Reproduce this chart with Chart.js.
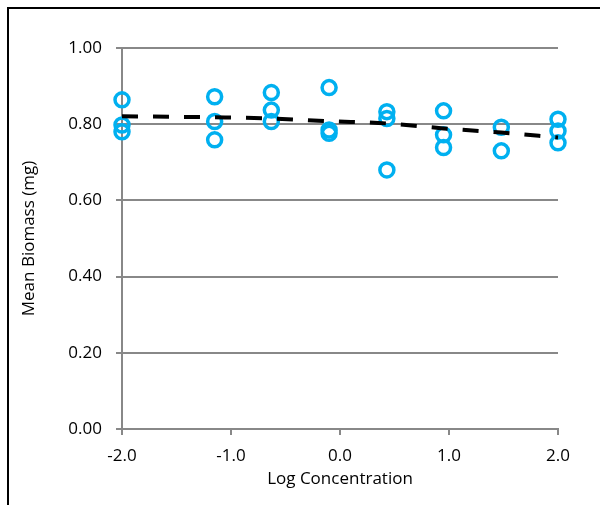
<!DOCTYPE html>
<html>
<head>
<meta charset="utf-8">
<script src="https://cdn.jsdelivr.net/npm/chart.js@4/dist/chart.umd.min.js"></script>
<style>
  html, body { margin: 0; padding: 0; background: #fff; }
  #wrap { position: relative; width: 600px; height: 505px; overflow: hidden; }
  #frame { position: absolute; left: 7px; top: 7px; right: -5px; bottom: -5px;
           border-left: 2px solid #000; border-top: 2px solid #000; }
  canvas { position: absolute; left: 0; top: 0; }
</style>
</head>
<body>
<div id="wrap">
  <div id="frame"></div>
  <canvas id="chart" width="600" height="505"></canvas>
</div>
<script>
// log concentration of each treatment
const logConc = [-2.0, -1.15, -0.63, -0.1, 0.43, 0.95, 1.48, 2.0];

// mean biomass (mg), one array per replicate
const rep1 = [0.864, 0.872, 0.883, 0.896, 0.833, 0.835, 0.792, 0.813];
const rep2 = [0.798, 0.807, 0.837, 0.785, 0.815, 0.772, 0.730, 0.782];
const rep3 = [0.780, 0.759, 0.807, 0.776, 0.680, 0.739, null, 0.751];

// fitted curve (dashed)
const fitted = [0.821, 0.818, 0.815, 0.808, 0.802, 0.789, 0.778, 0.765];

const yTicks = [0, 0.2, 0.4, 0.6, 0.8, 1.0];
const xTicks = [-2, -1, 0, 1, 2];

const FONT = "'Open Sans', sans-serif";
const GRID = '#888888';

// build scatter points
const points = [];
[rep1, rep2, rep3].forEach(rep => {
  rep.forEach((v, i) => {
    if (v !== null) points.push({ x: logConc[i], y: v });
  });
});
const fitPoints = logConc.map((x, i) => ({ x: x, y: fitted[i] }));

const ctx = document.getElementById('chart').getContext('2d');
new Chart(ctx, {
  type: 'scatter',
  data: {
    datasets: [
      {
        type: 'line',
        data: fitPoints,
        borderColor: '#000',
        borderWidth: 4,
        borderDash: [16, 15],
        borderCapStyle: 'butt',
        pointRadius: 0,
        fill: false,
        clip: false,
        cubicInterpolationMode: 'monotone'
      },
      {
        data: points,
        pointStyle: 'circle',
        pointRadius: 7,
        pointBorderWidth: 3.5,
        pointBorderColor: '#00B0F0',
        pointBackgroundColor: 'rgba(0,0,0,0)',
        clip: false,
        showLine: false
      }
    ]
  },
  options: {
    responsive: false,
    animation: false,
    layout: { padding: { left: 0, right: 42, top: 48, bottom: 0 } },
    plugins: {
      legend: { display: false },
      tooltip: { enabled: false }
    },
    scales: {
      x: {
        type: 'linear',
        min: -2,
        max: 2,
        afterBuildTicks: s => { s.ticks = xTicks.map(v => ({ value: v })); },
        afterFit: s => { s.height = 76; },
        ticks: {
          padding: 11,
          color: '#000',
          font: { family: FONT, size: 17 },
          callback: v => v.toFixed(1)
        },
        grid: { drawOnChartArea: false, drawTicks: true, tickLength: 6, color: GRID, lineWidth: 2 },
        border: { display: true, color: GRID, width: 2 },
        title: {
          display: true,
          text: 'Log Concentration',
          color: '#000',
          font: { family: FONT, size: 17 },
          padding: { top: 0, bottom: 16 }
        }
      },
      y: {
        min: 0,
        max: 1,
        afterBuildTicks: s => { s.ticks = yTicks.map(v => ({ value: v })); },
        afterFit: s => { s.width = 122; },
        ticks: {
          padding: 14,
          color: '#000',
          font: { family: FONT, size: 17 },
          callback: v => v.toFixed(2)
        },
        grid: { drawTicks: true, tickLength: 6, color: GRID, lineWidth: 2 },
        border: { display: true, color: GRID, width: 2 },
        title: {
          display: true,
          text: 'Mean Biomass (mg)',
          color: '#000',
          font: { family: FONT, size: 17 },
          padding: { top: 19, bottom: 0 }
        }
      }
    }
  }
});
</script>
</body>
</html>
